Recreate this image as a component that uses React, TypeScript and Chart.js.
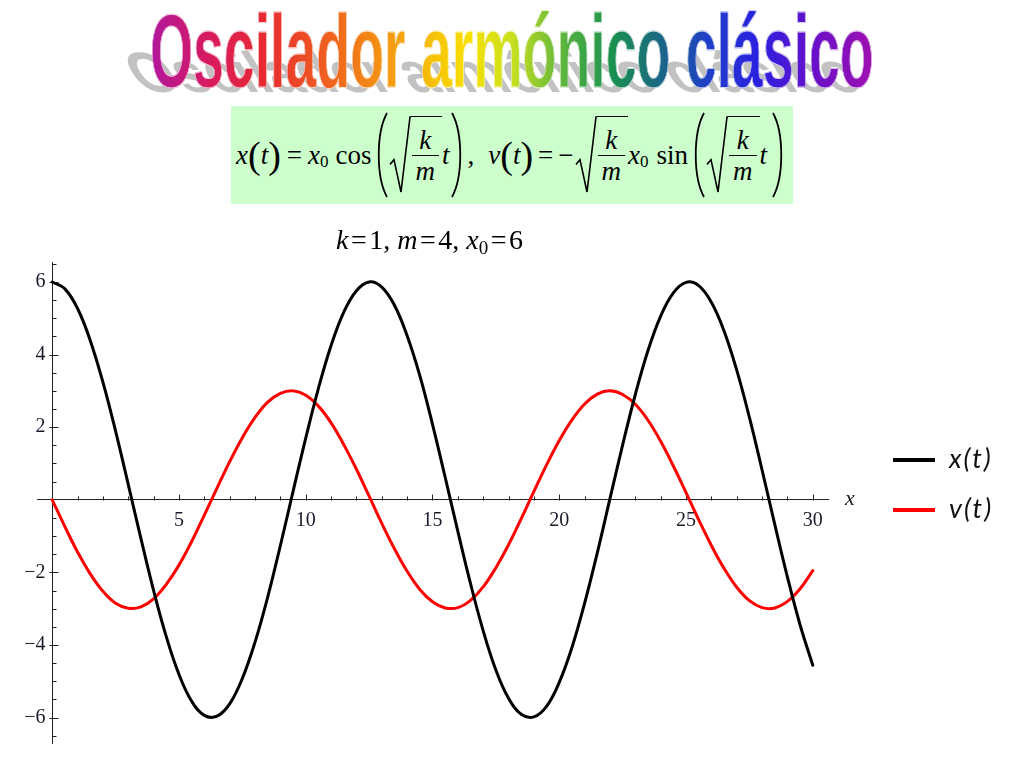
import React, { useEffect, useRef } from 'react';
import { Chart, registerables } from 'chart.js';

Chart.register(...registerables);

// ---- Data ----
const T_VALUES = [
  0, 0.5, 1, 1.5, 2, 2.5, 3, 3.5, 4, 4.5, 5, 5.5, 6, 6.5, 7, 7.5, 8, 8.5, 9, 9.5,
  10, 10.5, 11, 11.5, 12, 12.5, 13, 13.5, 14, 14.5, 15, 15.5, 16, 16.5, 17, 17.5, 18, 18.5, 19, 19.5,
  20, 20.5, 21, 21.5, 22, 22.5, 23, 23.5, 24, 24.5, 25, 25.5, 26, 26.5, 27, 27.5, 28, 28.5, 29, 29.5, 30,
];
const X_VALUES = [
  6.0, 5.81, 5.27, 4.39, 3.24, 1.89, 0.42, -1.07, -2.5, -3.77,
  -4.81, -5.55, -5.94, -5.96, -5.62, -4.92, -3.92, -2.68, -1.26, 0.23,
  1.7, 3.07, 4.25, 5.17, 5.76, 6.0, 5.86, 5.36, 4.52, 3.42,
  2.08, 0.62, -0.87, -2.31, -3.61, -4.69, -5.47, -5.91, -5.98, -5.69,
  -5.03, -4.07, -2.85, -1.46, 0.03, 1.51, 2.9, 4.11, 5.06, 5.7,
  5.99, 5.9, 5.44, 4.65, 3.57, 2.27, 0.82, -0.68, -2.13, -3.45, -4.56,
];
const V_VALUES = [
  0, -0.74, -1.44, -2.04, -2.52, -2.85, -2.99, -2.95, -2.73, -2.33,
  -1.8, -1.15, -0.42, 0.32, 1.05, 1.71, 2.27, 2.69, 2.93, 3.0,
  2.88, 2.58, 2.12, 1.52, 0.84, 0.1, -0.65, -1.35, -1.97, -2.47,
  -2.81, -2.98, -2.97, -2.77, -2.4, -1.87, -1.24, -0.52, 0.23, 0.96,
  1.63, 2.2, 2.64, 2.91, 3.0, 2.9, 2.63, 2.19, 1.61, 0.93,
  0.2, -0.55, -1.26, -1.89, -2.41, -2.78, -2.97, -2.98, -2.8, -2.45, -1.95,
];
const SERIES_LABELS = ['x(t)', 'v(t)'];
const SERIES_COLORS = ['#000000', '#ff0000'];
const X_TICKS = [5, 10, 15, 20, 25, 30];
const Y_TICKS = [-6, -4, -2, 2, 4, 6];
const X_MINOR_STEP = 1;
const Y_MINOR_STEP = 0.5;
const X_MIN = -0.6;
const X_MAX = 30.6;
const Y_MIN = -6.7;
const Y_MAX = 6.55;

const TITLE = 'Oscilador armónico clásico';

const fmt = (v: number) => (v < 0 ? '\u2212' + Math.abs(v) : String(v));

const axisTicksPlugin = {
  id: 'axisTicks',
  beforeDatasetsDraw(chart: any) {
    const { ctx } = chart;
    const xs = chart.scales.x;
    const ys = chart.scales.y;
    const x0 = Math.round(xs.getPixelForValue(0)) + 0.5;
    const y0 = Math.round(ys.getPixelForValue(0)) + 0.5;
    ctx.save();
    ctx.strokeStyle = '#222';
    ctx.lineWidth = 1;
    ctx.beginPath();
    for (let v = X_MINOR_STEP; v <= X_MAX; v += X_MINOR_STEP) {
      const px = Math.round(xs.getPixelForValue(v)) + 0.5;
      const major = X_TICKS.includes(v);
      ctx.moveTo(px, y0);
      ctx.lineTo(px, y0 - (major ? 6 : 4));
    }
    for (let v = Math.ceil(Y_MIN / Y_MINOR_STEP) * Y_MINOR_STEP; v <= Y_MAX; v += Y_MINOR_STEP) {
      if (Math.abs(v) < 1e-9) continue;
      const py = Math.round(ys.getPixelForValue(v)) + 0.5;
      const major = Y_TICKS.includes(v);
      ctx.moveTo(major ? x0 - 3 : x0, py);
      ctx.lineTo(x0 + (major ? 6 : 4), py);
    }
    ctx.stroke();
    ctx.restore();
  },
};

function ChartCanvas() {
  const ref = useRef<HTMLCanvasElement | null>(null);
  useEffect(() => {
    if (!ref.current) return;
    const mk = (vals: number[]) => T_VALUES.map((t, i) => ({ x: t, y: vals[i] }));
    const chart = new Chart(ref.current, {
      type: 'line',
      data: {
        datasets: [
          {
            label: SERIES_LABELS[0],
            data: mk(X_VALUES),
            borderColor: SERIES_COLORS[0],
            backgroundColor: SERIES_COLORS[0],
            borderWidth: 3,
          },
          {
            label: SERIES_LABELS[1],
            data: mk(V_VALUES),
            borderColor: SERIES_COLORS[1],
            backgroundColor: SERIES_COLORS[1],
            borderWidth: 3,
          },
        ],
      },
      options: {
        animation: false,
        responsive: false,
        maintainAspectRatio: false,
        events: [],
        layout: { padding: { left: 37, top: 262, right: 196, bottom: 25 } },
        elements: {
          point: { radius: 0 },
          line: { tension: 0.4, borderCapStyle: 'round', borderJoinStyle: 'round' },
        },
        plugins: {
          legend: { display: false },
          tooltip: { enabled: false },
          title: { display: false },
        },
        scales: {
          x: {
            type: 'linear',
            position: { y: 0 },
            min: X_MIN,
            max: X_MAX,
            afterFit: (s: any) => {
              s.height = 0;
            },
            afterBuildTicks: (s: any) => {
              s.ticks = X_TICKS.map((v) => ({ value: v }));
            },
            grid: { display: true, drawOnChartArea: false, drawTicks: false },
            border: { display: true, color: '#222', width: 1 },
            ticks: {
              font: { family: '"Liberation Serif", "Times New Roman", serif', size: 20 },
              color: '#1a1a2a',
              padding: 9,
              maxRotation: 0,
              autoSkip: false,
              callback: (v: any) => fmt(Number(v)),
            },
          },
          y: {
            type: 'linear',
            position: { x: 0 },
            min: Y_MIN,
            max: Y_MAX,
            afterFit: (s: any) => {
              s.width = 0;
            },
            afterBuildTicks: (s: any) => {
              s.ticks = Y_TICKS.map((v) => ({ value: v }));
            },
            grid: { display: true, drawOnChartArea: false, drawTicks: false },
            border: { display: true, color: '#222', width: 1 },
            ticks: {
              font: { family: '"Liberation Serif", "Times New Roman", serif', size: 20 },
              color: '#1a1a2a',
              autoSkip: false,
              // right-aligned at the axis: a trailing three-per-em space acts as the gap
              callback: (v: any) => fmt(Number(v)) + '\u2004',
            },
          },
        },
      } as any,
      plugins: [axisTicksPlugin],
    });
    return () => chart.destroy();
  }, []);
  return (
    <canvas
      ref={ref}
      width={1024}
      height={768}
      style={{ position: 'absolute', left: 0, top: 0, width: 1024, height: 768 }}
    />
  );
}

const serif = '"Liberation Serif", "Times New Roman", serif';

function BigParen({ left }: { left: boolean }) {
  return (
    <svg width={14} height={88} viewBox="0 0 14 88" style={{ display: 'block' }}>
      <path
        d={left ? 'M12 2 C 1 22, 1 66, 12 86' : 'M2 2 C 13 22, 13 66, 2 86'}
        stroke="#000"
        strokeWidth={1.8}
        fill="none"
      />
    </svg>
  );
}

function Sqrt({ children }: { children: React.ReactNode }) {
  const h = 78;
  return (
    <span style={{ display: 'inline-flex', alignItems: 'stretch', height: h }}>
      <svg width={22} height={h} viewBox={`0 0 22 ${h}`} style={{ display: 'block' }}>
        <path d={`M1 ${h * 0.62} L5 ${h * 0.56} L12 ${h - 2} L21 1 L22 1`} stroke="#000" strokeWidth={1.6} fill="none" />
      </svg>
      <span
        style={{
          borderTop: '1.5px solid #000',
          display: 'inline-flex',
          alignItems: 'center',
          boxSizing: 'border-box',
          height: h,
          paddingRight: 2,
        }}
      >
        {children}
      </span>
    </span>
  );
}

function Frac({ num, den }: { num: string; den: string }) {
  return (
    <span style={{ display: 'inline-flex', flexDirection: 'column', alignItems: 'center', margin: '0 1px' }}>
      <span style={{ fontStyle: 'italic', lineHeight: '30px', padding: '0 4px' }}>{num}</span>
      <span style={{ height: 1.3, background: '#000', alignSelf: 'stretch' }} />
      <span style={{ fontStyle: 'italic', lineHeight: '30px', padding: '0 4px' }}>{den}</span>
    </span>
  );
}

const I = ({ c }: { c: string }) => <span style={{ fontStyle: 'italic' }}>{c}</span>;
const Sub = ({ c }: { c: string }) => (
  <span style={{ fontSize: 17, position: 'relative', top: 7 }}>{c}</span>
);
const P = ({ c }: { c: string }) => <span style={{ fontSize: 38, lineHeight: '38px' }}>{c}</span>;

function Formula() {
  return (
    <div
      style={{
        position: 'absolute',
        left: 231,
        top: 106,
        width: 562,
        height: 98,
        boxSizing: 'border-box',
        paddingLeft: 5,
        background: '#ccffcc',
        display: 'flex',
        alignItems: 'center',
        justifyContent: 'flex-start',
        fontFamily: serif,
        fontSize: 27,
        color: '#000',
        whiteSpace: 'nowrap',
      }}
    >
      <I c="x" />
      <P c="(" />
      <I c="t" />
      <P c=")" />
      <span style={{ margin: '0 6px' }}>=</span>
      <I c="x" />
      <Sub c="0" />
      <span style={{ margin: '0 3px 0 7px' }}>cos</span>
      <BigParen left />
      <Sqrt>
        <Frac num="k" den="m" />
      </Sqrt>
      <I c="t" />
      <BigParen left={false} />
      <span style={{ margin: '0 14px 0 4px' }}>,</span>
      <I c="v" />
      <P c="(" />
      <I c="t" />
      <P c=")" />
      <span style={{ margin: '0 5px' }}>=</span>
      <span style={{ marginRight: 1 }}>{'\u2212'}</span>
      <Sqrt>
        <Frac num="k" den="m" />
      </Sqrt>
      <I c="x" />
      <Sub c="0" />
      <span style={{ margin: '0 4px 0 8px' }}>sin</span>
      <BigParen left />
      <Sqrt>
        <Frac num="k" den="m" />
      </Sqrt>
      <I c="t" />
      <span style={{ width: 4 }} />
      <BigParen left={false} />
    </div>
  );
}

function Title() {
  const grad =
    'linear-gradient(to right, #b0179e 0%, #d81a60 8%, #e82a30 16%, #f06a1c 26%, #f5a010 34%, #f8e000 44%, #c8e020 50%, #50b040 58%, #1a9050 64%, #1a6a80 70%, #2040c8 77%, #2a20e0 84%, #6a10c8 92%, #a010b0 100%)';
  const common: React.CSSProperties = {
    whiteSpace: 'nowrap',
    fontFamily: '"Liberation Sans", Arial, sans-serif',
    fontWeight: 700,
    fontSize: 68,
    lineHeight: '70px',
    height: 70,
  };
  return (
    <div
      style={{
        position: 'absolute',
        left: 0,
        top: -3,
        width: 1024,
        textAlign: 'center',
        transform: 'scaleX(0.815) scaleY(1.52)',
        transformOrigin: '511px 0',
      }}
    >
      <span style={{ position: 'relative', display: 'inline-block' }}>
        <span
          aria-hidden="true"
          style={{
            ...common,
            position: 'absolute',
            display: 'block',
            left: 0,
            top: 0,
            color: '#c2c2c2',
            transform: 'translate(-10px, 4px) skewX(49deg) scaleY(0.55)',
            transformOrigin: '0 58.5px',
          }}
        >
          {TITLE}
        </span>
        <span
          style={{
            ...common,
            position: 'relative',
            display: 'inline-block',
            backgroundImage: grad,
            WebkitBackgroundClip: 'text',
            backgroundClip: 'text',
            color: 'transparent',
            WebkitTextStroke: '0.6px rgba(255,255,255,0.8)',
          }}
        >
          {TITLE}
        </span>
      </span>
    </div>
  );
}

function Subtitle() {
  const eq = <span style={{ margin: '0 2.5px' }}>=</span>;
  return (
    <div
      style={{
        position: 'absolute',
        left: 336,
        top: 224,
        fontFamily: serif,
        fontSize: 28,
        lineHeight: '32px',
        color: '#000',
        whiteSpace: 'nowrap',
      }}
    >
      <I c="k" />
      {eq}1, <I c="m" />
      {eq}4, <I c="x" />
      <span style={{ fontSize: 19, position: 'relative', top: 5 }}>0</span>
      {eq}6
    </div>
  );
}

function Legend() {
  const rows = [0, 1];
  return (
    <>
      {rows.map((i) => (
        <React.Fragment key={i}>
          <div
            style={{
              position: 'absolute',
              left: 893,
              top: 458 + i * 50,
              width: 42,
              height: 4,
              background: SERIES_COLORS[i],
            }}
          />
          <div
            style={{
              position: 'absolute',
              left: 949,
              top: 443 + i * 50,
              fontFamily: 'Lato, "Open Sans", "Noto Sans", sans-serif',
              fontStyle: 'italic',
              fontSize: 27,
              letterSpacing: 2,
              lineHeight: '30px',
              color: '#111',
              whiteSpace: 'nowrap',
            }}
          >
            {SERIES_LABELS[i]}
          </div>
        </React.Fragment>
      ))}
    </>
  );
}

export default function App() {
  return (
    <div style={{ position: 'absolute', left: 0, top: 0, width: 1024, height: 768, background: '#fff', overflow: 'hidden' }}>
      <ChartCanvas />
      <Title />
      <Formula />
      <Subtitle />
      <div
        style={{
          position: 'absolute',
          left: 845,
          top: 485,
          fontFamily: serif,
          fontStyle: 'italic',
          fontSize: 22,
          lineHeight: '26px',
          color: '#222',
        }}
      >
        x
      </div>
      <Legend />
    </div>
  );
}
